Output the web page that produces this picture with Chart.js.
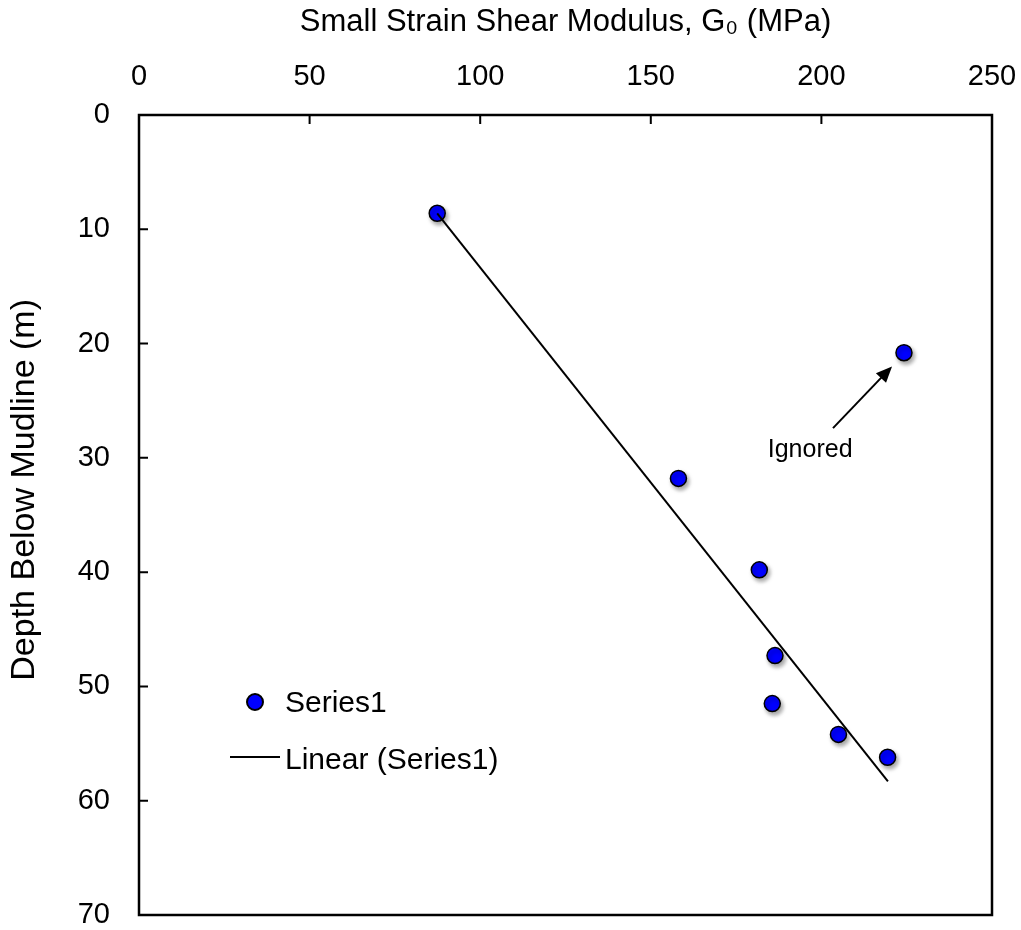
<!DOCTYPE html>
<html>
<head>
<meta charset="utf-8">
<script src="https://cdn.jsdelivr.net/npm/chart.js@4.4.1/dist/chart.umd.min.js"></script>
<style>
  html, body { margin: 0; padding: 0; background: #fff; }
  #wrap { width: 1021px; height: 930px; }
</style>
</head>
<body>
<div id="wrap"><canvas id="myChart" width="1021" height="930"></canvas></div>
<script>
// values
const modulus = [87.4, 224.2, 158.1, 181.8, 186.4, 185.6, 205.0, 219.4];
const depth = [8.6, 20.8, 31.8, 39.8, 47.3, 51.5, 54.2, 56.2];

// Excel linear trendline (ends)
const trendModulus = [87.4, 219.5];
const trendDepth = [8.6, 58.3];

// annotation arrow for the ignored point (data units)
const arrowTail = [203.4, 27.4];
const arrowTip = [220.7, 22.0];
const noteText = 'Ignored';
const notePos = [196.7, 29.3];

const xTitle = 'Small Strain Shear Modulus, G\u2080 (MPa)';
const yTitle = 'Depth Below Mudline (m)';
const seriesName = 'Series1';
const trendName = 'Linear (Series1)';

const FONT = "'Liberation Sans', Arial, sans-serif";

const scatterPts = modulus.map(function (v, i) { return { x: v, y: depth[i] }; });
const trendPts = trendModulus.map(function (v, i) { return { x: v, y: trendDepth[i] }; });

// frame, inward ticks, y title, arrow note and legend
const framePlugin = {
    id: 'frame',
    beforeDatasetDraw(chart, args) {
        if (args.index === 1) {
            chart.ctx.save();
            chart.ctx.shadowColor = 'rgba(0,0,0,0.35)';
            chart.ctx.shadowBlur = 4;
            chart.ctx.shadowOffsetX = 2;
            chart.ctx.shadowOffsetY = 3;
        }
    },
    afterDatasetDraw(chart, args) {
        if (args.index === 1) chart.ctx.restore();
    },
    afterDraw(chart) {
        const ctx = chart.ctx;
        const a = chart.chartArea;
        const xs = chart.scales.x, ys = chart.scales.y;
        ctx.save();
        ctx.strokeStyle = '#000';
        ctx.lineWidth = 2.5;
        ctx.strokeRect(a.left, a.top, a.right - a.left, a.bottom - a.top);
        ctx.lineWidth = 2;
        ctx.beginPath();
        xs.ticks.forEach(function (t) {
            var px = xs.getPixelForValue(t.value);
            ctx.moveTo(px, a.top);
            ctx.lineTo(px, a.top + 9);
        });
        ys.ticks.forEach(function (t) {
            var py = ys.getPixelForValue(t.value);
            ctx.moveTo(a.left, py);
            ctx.lineTo(a.left + 9, py);
        });
        ctx.stroke();

        // y axis title (sits a little above the axis middle in the original)
        ctx.save();
        ctx.translate(25, ys.getPixelForValue(32.8));
        ctx.rotate(-Math.PI / 2);
        ctx.fillStyle = '#000';
        ctx.font = '34px ' + FONT;
        ctx.textAlign = 'center';
        ctx.textBaseline = 'middle';
        ctx.fillText(yTitle, 0, 0);
        ctx.restore();

        // arrow
        var x1 = xs.getPixelForValue(arrowTail[0]), y1 = ys.getPixelForValue(arrowTail[1]);
        var x2 = xs.getPixelForValue(arrowTip[0]), y2 = ys.getPixelForValue(arrowTip[1]);
        var ang = Math.atan2(y2 - y1, x2 - x1);
        ctx.lineWidth = 2;
        ctx.beginPath();
        ctx.moveTo(x1, y1);
        ctx.lineTo(x2 - 10 * Math.cos(ang), y2 - 10 * Math.sin(ang));
        ctx.stroke();
        ctx.fillStyle = '#000';
        ctx.beginPath();
        ctx.moveTo(x2, y2);
        ctx.lineTo(x2 - 16 * Math.cos(ang) + 7 * Math.sin(ang), y2 - 16 * Math.sin(ang) - 7 * Math.cos(ang));
        ctx.lineTo(x2 - 16 * Math.cos(ang) - 7 * Math.sin(ang), y2 - 16 * Math.sin(ang) + 7 * Math.cos(ang));
        ctx.closePath();
        ctx.fill();
        ctx.font = '25px ' + FONT;
        ctx.textAlign = 'center';
        ctx.textBaseline = 'middle';
        ctx.fillText(noteText, xs.getPixelForValue(notePos[0]), ys.getPixelForValue(notePos[1]));

        // legend
        var lx = a.left + 116, ly = a.top + 587;
        var ds0 = chart.data.datasets[1];
        ctx.beginPath();
        ctx.arc(lx, ly, 8, 0, Math.PI * 2);
        ctx.fillStyle = ds0.backgroundColor;
        ctx.fill();
        ctx.lineWidth = 2;
        ctx.strokeStyle = ds0.borderColor;
        ctx.stroke();
        ctx.fillStyle = '#000';
        ctx.font = '30px ' + FONT;
        ctx.textAlign = 'left';
        ctx.fillText(seriesName, lx + 30, ly + 2);
        ctx.beginPath();
        ctx.lineWidth = 2;
        ctx.moveTo(lx - 25, ly + 55);
        ctx.lineTo(lx + 25, ly + 55);
        ctx.stroke();
        ctx.fillText(trendName, lx + 30, ly + 59);
        ctx.restore();
    }
};

const ctx = document.getElementById('myChart');
const myChart = new Chart(ctx, {
    type: 'scatter',
    data: {
        datasets: [{
            label: trendName,
            data: trendPts,
            showLine: true,
            borderColor: '#000',
            borderWidth: 2,
            pointRadius: 0,
            fill: false
        },
        {
            label: seriesName,
            data: scatterPts,
            backgroundColor: '#0000ff',
            borderColor: '#000',
            borderWidth: 1.5,
            pointRadius: 8,
            pointHoverRadius: 8
        }]
    },
    options: {
        responsive: false,
        animation: false,
        layout: { padding: { left: 0, top: 0, right: 29, bottom: 15 } },
        plugins: {
            legend: { display: false },
            tooltip: { enabled: false }
        },
        scales: {
            x: {
                type: 'linear',
                position: 'top',
                min: 0,
                max: 250,
                afterFit: function (s) { s.height = 115; s.paddingLeft = 0; s.paddingRight = 0; },
                grid: { display: false, drawTicks: false },
                border: { display: false },
                ticks: { stepSize: 50, padding: 21, color: '#000', font: { family: FONT, size: 29 } },
                title: { display: true, text: xTitle, color: '#000', padding: { top: 4, bottom: 0 }, font: { family: FONT, size: 31 } }
            },
            y: {
                type: 'linear',
                reverse: true,
                min: 0,
                max: 70,
                afterFit: function (s) { s.width = 139; s.paddingTop = 0; s.paddingBottom = 0; },
                grid: { display: false, drawTicks: false },
                border: { display: false },
                ticks: { stepSize: 10, padding: 29, color: '#000', font: { family: FONT, size: 29 } },
                title: { display: false, text: yTitle }
            }
        }
    },
    plugins: [framePlugin]
});
</script>
</body>
</html>
